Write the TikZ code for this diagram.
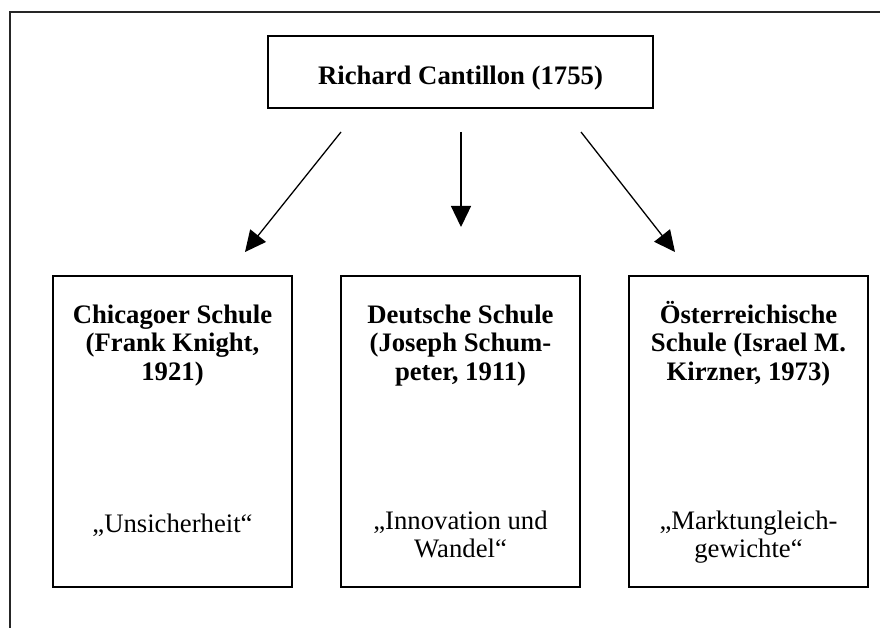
\documentclass[tikz,border=0pt]{standalone}
\usepackage{fontspec}
\setmainfont{Liberation Serif}
\usetikzlibrary{arrows.meta}
\begin{document}
\begin{tikzpicture}[x=1pt,y=-1pt,
  box/.style={draw, line width=1.3pt, inner sep=0pt},
  headtxt/.style={font=\fontsize{26.7}{28.5}\selectfont\bfseries, align=center, inner sep=0pt, anchor=base},
  quotetxt/.style={font=\fontsize{26.7}{28}\selectfont, align=center, inner sep=0pt, anchor=base},
  arr/.style={line width=1.3pt, -{Triangle[length=21pt,width=20pt]}}]
\useasboundingbox (0,0) rectangle (880,628);
\draw[line width=1.3pt, black!85] (10,640) -- (10,12) -- (890,12);
% top box
\node[box, minimum width=385pt, minimum height=72pt] (top) at (460.5,72) {};
\node[headtxt] (toptxt) at (460.5,85) {Richard Cantillon (1755)};
% lower boxes
\node[box, minimum width=239pt, minimum height=311pt] (chi) at (172.5,431.5) {};
\node[box, minimum width=239pt, minimum height=311pt] (deu) at (460.5,431.5) {};
\node[box, minimum width=239pt, minimum height=311pt] (oes) at (748.5,431.5) {};
\node[headtxt] (chih) at (172.5,380) {Chicagoer Schule\\(Frank Knight,\\1921)};
\node[headtxt] (deuh) at (460.5,380) {Deutsche Schule\\(Joseph Schum-\\peter, 1911)};
\node[headtxt] (oesh) at (748.5,380) {Österreichische\\Schule (Israel M.\\Kirzner, 1973)};
\node[quotetxt] (chiq) at (172.5,532) {„Unsicherheit“};
\node[quotetxt] (deuq) at (460.5,557) {„Innovation und\\Wandel“};
\node[quotetxt] (oesq) at (748.5,557) {„Marktungleich-\\gewichte“};
% arrow ends
\coordinate (s1) at (341,132);
\coordinate (e1) at (245,252);
\coordinate (s2) at (461,132);
\coordinate (e2) at (461,227);
\coordinate (s3) at (581,132);
\coordinate (e3) at (675,252);
\draw[arr] (s1) -- (e1);
\draw[arr] (s2) -- (e2);
\draw[arr] (s3) -- (e3);
\end{tikzpicture}
\end{document}
